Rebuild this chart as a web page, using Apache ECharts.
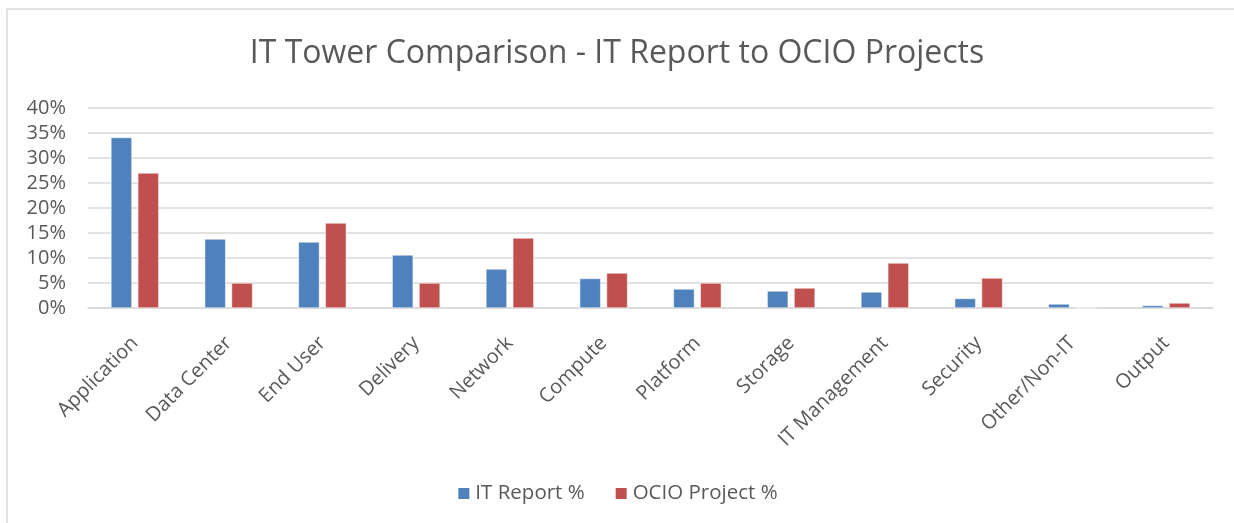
<!DOCTYPE html>
<html>
<head>
<meta charset="utf-8">
<script src="https://cdn.jsdelivr.net/npm/echarts@6/dist/echarts.min.js"></script>
<style>
html,body{margin:0;padding:0;background:#fff;}
#chart{width:1234px;height:523px;}
</style>
</head>
<body>
<div id="chart"></div>
<script>
const titleText = 'IT Tower Comparison - IT Report to OCIO Projects';
const categories = ['Application','Data Center','End User','Delivery','Network','Compute','Platform','Storage','IT Management','Security','Other/Non-IT','Output'];
const itReport = [34.1, 13.8, 13.2, 10.6, 7.8, 5.9, 3.8, 3.4, 3.2, 1.9, 0.8, 0.5];
const ocioProject = [27, 5, 17, 5, 14, 7, 5, 4, 9, 6, 0, 1];
const seriesNames = ['IT Report %', 'OCIO Project %'];
const yTicks = [0, 5, 10, 15, 20, 25, 30, 35, 40];

const font = 'Open Sans';
const textColor = '#595959';
const chart = echarts.init(document.getElementById('chart'), null, {renderer:'canvas'});
chart.setOption({
  animation: false,
  title: {
    text: titleText, left: 'center', top: 33,
    textStyle: {fontFamily: font, fontSize: 32, fontWeight: 'normal', color: textColor}
  },
  graphic: [{
    type: 'rect', shape: {x: 7, y: 9, width: 1240, height: 530},
    style: {fill: 'none', stroke: '#d9d9d9', lineWidth: 1.5}, silent: true
  }],
  legend: {
    data: seriesNames, bottom: 14, left: 'center', itemWidth: 13, itemHeight: 13, itemGap: 29,
    icon: 'rect',
    textStyle: {fontFamily: font, fontSize: 20.5, color: textColor}
  },
  grid: {left: 88, right: 21, top: 108, bottom: 215},
  xAxis: {
    type: 'category', data: categories,
    axisLine: {lineStyle: {color: '#d9d9d9', width: 1.5}},
    axisTick: {show: false},
    axisLabel: {rotate: 45, interval: 0, margin: 32, fontFamily: font, fontSize: 20, color: textColor}
  },
  yAxis: {
    type: 'value', min: yTicks[0], max: yTicks[yTicks.length-1], interval: 5,
    axisLine: {show: false}, axisTick: {show: false},
    splitLine: {lineStyle: {color: '#d9d9d9', width: 1.5}},
    axisLabel: {formatter: '{value}%', margin: 22, fontFamily: font, fontSize: 20, color: textColor}
  },
  series: [
    {name: seriesNames[0], type: 'bar', data: itReport, barWidth: 21, barGap: '28%',
     itemStyle: {color: '#4f81bd', borderColor: '#ffffff', borderWidth: 0.5}},
    {name: seriesNames[1], type: 'bar', data: ocioProject, barWidth: 21,
     itemStyle: {color: '#c0504d', borderColor: '#ffffff', borderWidth: 0.5}}
  ]
});
</script>
</body>
</html>
